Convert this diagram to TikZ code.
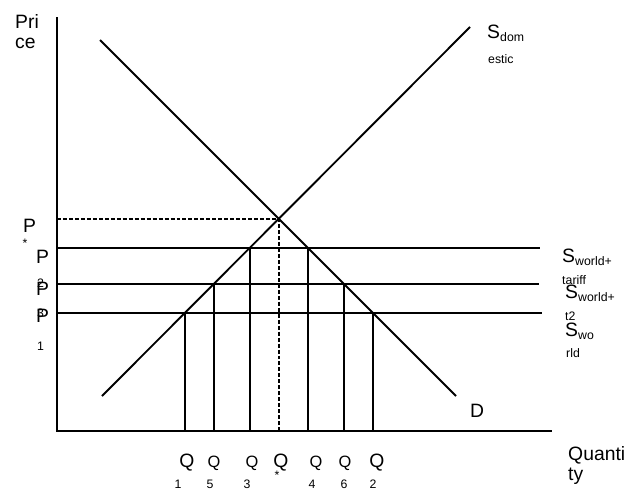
\documentclass[tikz,border=0pt]{standalone}
\usepackage{fontspec}
\setmainfont{Liberation Sans}
\usetikzlibrary{positioning}

\begin{document}
\begin{tikzpicture}[x=0.03cm,y=-0.03cm,
  axis/.style={line width=2pt},
  curve/.style={line width=1.6pt},
  level/.style={line width=1.5pt},
  drop/.style={line width=1.5pt},
  guide/.style={line width=1.3pt,dash pattern=on 3.4pt off 1.7pt},
  big/.style={font=\fontsize{16.5}{19}\selectfont,inner sep=0pt},
  mid/.style={font=\fontsize{14}{16}\selectfont,inner sep=0pt},
  small/.style={font=\fontsize{10.5}{12}\selectfont,inner sep=0pt}]
  \useasboundingbox (0,0) rectangle (629,491);

  % axes
  \coordinate (O) at (57,431);
  \coordinate (ytop) at (57,17);
  \coordinate (xend) at (552,431);
  \draw[axis] (ytop) -- (O) -- (xend);

  % supply and demand
  \coordinate (s0) at (102,396);
  \coordinate (s1) at (470,27);
  \coordinate (d0) at (100,40);
  \coordinate (d1) at (456,396);
  \draw[curve] (s0) -- (s1);
  \draw[curve] (d0) -- (d1);
  \coordinate (E) at (intersection of s0--s1 and d0--d1);
  \draw[guide] (O |- E) -- (E) -- (E |- O);

  % price levels
  \coordinate (tar0) at (57,248); \coordinate (tar1) at (540,248);
  \coordinate (mid0) at (57,284); \coordinate (mid1) at (539,284);
  \coordinate (wld0) at (57,313); \coordinate (wld1) at (542,313);
  \draw[level] (tar0) -- (tar1);
  \draw[level] (mid0) -- (mid1);
  \draw[level] (wld0) -- (wld1);

  % quantities at each price
  \coordinate (a1) at (intersection of s0--s1 and wld0--wld1);
  \coordinate (a5) at (intersection of s0--s1 and mid0--mid1);
  \coordinate (a3) at (intersection of s0--s1 and tar0--tar1);
  \coordinate (b4) at (intersection of d0--d1 and tar0--tar1);
  \coordinate (b6) at (intersection of d0--d1 and mid0--mid1);
  \coordinate (b2) at (intersection of d0--d1 and wld0--wld1);
  \foreach \c in {a1,a5,a3,b4,b6}
    \draw[drop] (\c) -- (\c |- O);
  \draw[line width=2.2pt] (b2) -- (b2 |- O);

  % axis titles
  \node[big,anchor=base west] (pri) at (15,28) {Pri};
  \node[big,anchor=base west] (ce) at (15,48) {ce};
  \node[big,anchor=base west] (quanti) at (568,460) {Quanti};
  \node[big,anchor=base west] (ty) at (568,480) {ty};

  % curve labels
  \node[big,anchor=base] (dlab) at (477,417) {D};
  \node[big,anchor=base west] (sdom) at (487,38) {S};
  \node[small,anchor=base west] (sdomsub) at (500,41) {dom};
  \node[small,anchor=base west] (sdomrest) at (488,63) {estic};
  \node[big,anchor=base west] (star) at (562,262) {S};
  \node[small,anchor=base west] (starsub) at (575,265) {world+};
  \node[small,anchor=base west] (starrest) at (562,284) {tariff};
  \node[big,anchor=base west] (smid) at (565,298) {S};
  \node[small,anchor=base west] (smidsub) at (578,301) {world+};
  \node[small,anchor=base west] (smidrest) at (565,320) {t2};
  \node[big,anchor=base west] (swld) at (565,336) {S};
  \node[small,anchor=base west] (swldsub) at (578,339) {wo};
  \node[small,anchor=base west] (swldrest) at (566,357) {rld};

  % price labels
  \node[big,anchor=base west] (pstar) at (23,232) {P};
  \node[small] (pstarsub) at (25,243) {*};
  \node[big,anchor=base west] (ptar) at (36,263) {P};
  \node[small,anchor=base west] (ptarsub) at (37,287) {2};
  \node[big,anchor=base west] (pmid) at (36,295) {P};
  \node[small,anchor=base west] (pmidsub) at (37,317) {3};
  \node[big,anchor=base west] (pwld) at (36,322) {P};
  \node[small,anchor=base west] (pwldsub) at (37,350) {1};

  % quantity labels
  \foreach \x/\s/\sx/\st in {187/1/178/big,214/5/210/mid,252/3/247/mid,
                             316/4/312/mid,345/6/344/mid,377/2/373/big} {
    \node[\st,anchor=base] (q\s) at (\x,467) {Q};
    \node[small,anchor=base] (q\s sub) at (\sx,488) {\s};
  }
  \node[big,anchor=base] (qstar) at (281,467) {Q};
  \node[small] (qstarsub) at (277,475) {*};
\end{tikzpicture}
\end{document}
